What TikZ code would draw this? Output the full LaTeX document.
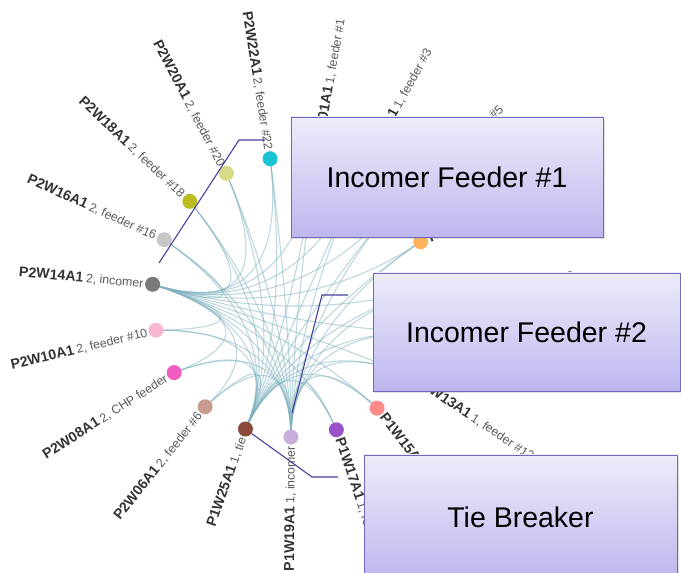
\documentclass[tikz,border=0pt]{standalone}
\usepackage{fontspec}
\setmainfont{Liberation Sans}
\usetikzlibrary{calc,shadows}
\definecolor{edgec}{HTML}{80B3C0}
\definecolor{namec}{HTML}{333333}
\definecolor{restc}{HTML}{5A5A5A}
\definecolor{callc}{HTML}{4A40A0}
\definecolor{boxtop}{HTML}{EDECFA}
\definecolor{boxbot}{HTML}{BDB7EE}
\definecolor{boxline}{HTML}{7068C0}
\pgfdeclarelayer{bg}\pgfdeclarelayer{fg}\pgfsetlayers{bg,main,fg}
\begin{document}
\begin{tikzpicture}[x=1pt,y=1pt,
  dot/.style={circle,inner sep=0pt,minimum size=15pt},
  lab/.style={inner sep=0pt},
  edge/.style={draw=edgec,line width=1.1pt,opacity=0.5},
  callout/.style={draw=callc,line width=1.1pt},
  bigbox/.style={draw=boxline,line width=0.9pt,top color=boxtop,bottom color=boxbot,
    drop shadow={opacity=0.25,shadow xshift=1.5pt,shadow yshift=-2pt},
    font=\fontsize{28.5}{34}\selectfont,text=black}]
\useasboundingbox (0,0) rectangle (681,573);
\coordinate (c) at (292,276);
\coordinate (m) at (292,256);
\foreach \i/\nm/\rs/\col in {
  0/P2W22A1/{2, feeder \#22}/19C3D3,
  1/P1W01A1/{1, feeder \#1}/1F77B4,
  2/P1W03A1/{1, feeder \#3}/AEC7E8,
  3/P1W05A1/{1, feeder \#5}/FF7F0E,
  4/P1W07A1/{1, feeder \#7}/FDB45C,
  5/P1W09A1/{1, feeder \#9}/2CA02C,
  6/P1W11A1/{1, feeder \#11}/98DF8A,
  7/P1W13A1/{1, feeder \#12}/D62728,
  8/P1W15A1/{1, feeder \#14}/FF8A88,
  9/P1W17A1/{1, feeder \#15}/9B52C9,
  10/P1W19A1/{1, incomer}/C8AED8,
  11/P1W25A1/{1, tie}/8B4A3C,
  12/P2W06A1/{2, feeder \#6}/C99A8E,
  13/P2W08A1/{2, CHP feeder}/F25CBF,
  14/P2W10A1/{2, feeder \#10}/F7B6D2,
  15/P2W14A1/{2, incomer}/7A7A7A,
  16/P2W16A1/{2, feeder \#16}/C7C7C7,
  17/P2W18A1/{2, feeder \#18}/BCBD22,
  18/P2W20A1/{2, feeder \#20}/D8DB86}{
  \pgfmathsetmacro\a{99-18.947*\i}
  \definecolor{dc\i}{HTML}{\col}
  \node[dot,fill=dc\i] (n\i) at ($(c)+(\a:140)$) {};
  \pgfmathtruncatemacro\lft{(\i==0)||(\i>=10)}
  \ifnum\lft=1
    \node[lab,anchor=east,rotate=\a+180] (l\i) at ($(c)+(\a:149)$)
      {{\fontsize{14.2}{16}\selectfont\bfseries\color{namec}\nm} {\fontsize{12.3}{14}\selectfont\color{restc}\rs}};
  \else
    \node[lab,anchor=west,rotate=\a] (l\i) at ($(c)+(\a:149)$)
      {{\fontsize{14.2}{16}\selectfont\bfseries\color{namec}\nm} {\fontsize{12.3}{14}\selectfont\color{restc}\rs}};
  \fi
}
\begin{pgfonlayer}{bg}
\fill[white] (0,0) rectangle (681,573);
\foreach \i in {0,1,2,3,4,5,6,7,8,9,12,13,14,16,17,18}{
  \foreach \h in {10,11,15}{
    \pgfmathsetmacro\ai{99-18.947*\i}
    \pgfmathsetmacro\ah{99-18.947*\h}
    \draw[edge] (n\i.center) .. controls ($(m)+(\ai:50)$) and ($(m)+(\ah:50)$) .. (n\h.center);
  }
}
\foreach \i/\h in {15/10,15/11,10/11}{
  \pgfmathsetmacro\ai{99-18.947*\i}
  \pgfmathsetmacro\ah{99-18.947*\h}
  \draw[edge] (n\i.center) .. controls ($(m)+(\ai:50)$) and ($(m)+(\ah:50)$) .. (n\h.center);
}
\end{pgfonlayer}
\coordinate (k1a) at (159,310);
\coordinate (k1b) at (239,433);
\coordinate (k1c) at (265,433);
\coordinate (k2a) at (292,160);
\coordinate (k2b) at (322,278);
\coordinate (k2c) at (348,278);
\coordinate (k3b) at (312,96);
\coordinate (k3c) at (338,96);
\draw[callout] (k1a) -- (k1b) -- (k1c);
\draw[callout] (k2a) -- (k2b) -- (k2c);
\draw[callout] (n11) -- (k3b) -- (k3c);
\begin{pgfonlayer}{fg}
\node[bigbox,minimum width=312pt,minimum height=120pt] (b1) at (447,396) {Incomer Feeder \#1};
\node[bigbox,minimum width=307pt,minimum height=118pt] (b2) at (526.5,241) {Incomer Feeder \#2};
\node[bigbox,minimum width=313pt,minimum height=124pt] (b3) at (520.5,56) {Tie Breaker};
\end{pgfonlayer}
\end{tikzpicture}
\end{document}
